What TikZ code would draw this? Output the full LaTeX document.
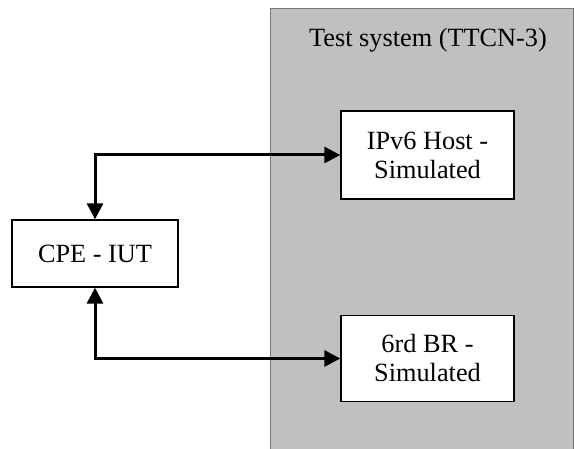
\documentclass[tikz,border=0pt]{standalone}
\usepackage{fontspec}
\setmainfont{Liberation Serif}
\usetikzlibrary{arrows.meta}
\begin{document}
\begin{tikzpicture}[x=1pt,y=1pt,
  boxstyle/.style={draw=black, fill=white, line width=1.3pt, inner sep=0pt, align=center, font=\fontsize{26.3}{29}\selectfont},
  conn/.style={line width=3pt, {Triangle[length=16pt,width=16pt]}-{Triangle[length=16pt,width=16pt]}}]
\useasboundingbox (0,0) rectangle (574,448);
\clip (0,0) rectangle (574,448);
\fill[white] (0,0) rectangle (574,448);
\draw[fill={rgb,255:red,192;green,192;blue,192}, draw={rgb,255:red,120;green,120;blue,120}, line width=1pt] (270,-10) rectangle (573,439);
\node[font=\fontsize{26.3}{29}\selectfont, anchor=center] (title) at (428,408) {Test system (TTCN-3)};
\node[boxstyle, minimum width=173pt, minimum height=88pt] (host) at (427.5,293) {IPv6 Host -\\Simulated};
\node[boxstyle, minimum width=173pt, minimum height=86pt] (br) at (427.5,89.5) {6rd BR -\\Simulated};
\node[boxstyle, minimum width=166pt, minimum height=67pt] (cpe) at (95,194.5) {CPE - IUT};
\draw[conn] (cpe.north) |- (host.west);
\draw[conn] (cpe.south) |- (br.west);
\end{tikzpicture}
\end{document}
